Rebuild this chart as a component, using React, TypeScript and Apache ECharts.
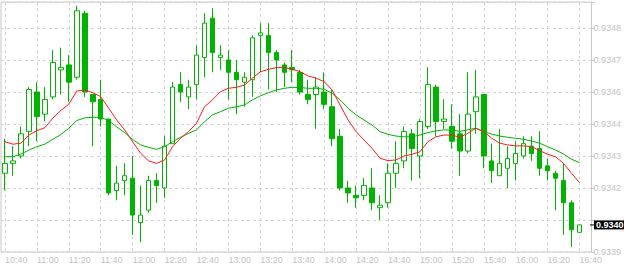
import React, { useEffect, useRef } from "react";
import * as echarts from "echarts";

// 5-minute bars, 10:40 .. 16:40
const barTimes: string[] = [];
for (let m = 640; m <= 1000; m += 5) {
  const h = Math.floor(m / 60);
  const mm = m % 60;
  barTimes.push(`${h}:${mm < 10 ? "0" + mm : mm}`);
}
const categories = [...barTimes, ""]; // one empty slot on the right

// [open, close, low, high]
const ohlc: number[][] = [
  [0.93424, 0.93428, 0.93417, 0.93438],
  [0.93428, 0.93429, 0.93423, 0.93435],
  [0.93431, 0.9344, 0.9343, 0.93443],
  [0.93441, 0.93458, 0.93435, 0.93459],
  [0.93457, 0.93447, 0.93437, 0.93461],
  [0.93448, 0.93454, 0.93445, 0.93459],
  [0.93455, 0.93469, 0.93454, 0.93474],
  [0.93466, 0.93467, 0.93456, 0.93475],
  [0.93468, 0.93461, 0.93453, 0.93472],
  [0.93463, 0.9349, 0.93462, 0.93492],
  [0.93489, 0.93457, 0.93455, 0.9349],
  [0.93456, 0.93453, 0.93435, 0.93456],
  [0.93454, 0.93446, 0.93443, 0.93462],
  [0.93446, 0.93416, 0.93415, 0.93446],
  [0.93417, 0.9342, 0.93413, 0.93427],
  [0.93421, 0.93423, 0.93415, 0.93428],
  [0.93422, 0.93407, 0.93399, 0.93431],
  [0.93404, 0.93407, 0.93396, 0.93419],
  [0.93409, 0.93421, 0.93408, 0.93423],
  [0.93421, 0.93419, 0.93412, 0.93424],
  [0.93418, 0.93435, 0.93414, 0.93439],
  [0.93436, 0.93459, 0.93436, 0.93461],
  [0.9346, 0.93457, 0.93453, 0.93465],
  [0.93455, 0.93459, 0.9345, 0.93462],
  [0.9346, 0.93472, 0.93454, 0.93476],
  [0.93471, 0.93485, 0.93463, 0.93489],
  [0.93487, 0.93473, 0.93465, 0.93491],
  [0.93471, 0.93472, 0.93466, 0.93476],
  [0.9347, 0.93465, 0.93454, 0.93474],
  [0.93465, 0.93462, 0.93448, 0.9347],
  [0.93461, 0.93463, 0.93451, 0.93465],
  [0.93462, 0.93479, 0.93455, 0.9348],
  [0.9348, 0.93481, 0.93465, 0.93485],
  [0.9348, 0.93473, 0.93458, 0.93485],
  [0.93473, 0.9347, 0.93457, 0.93474],
  [0.93468, 0.93465, 0.93459, 0.93469],
  [0.93467, 0.93466, 0.93461, 0.93474],
  [0.93465, 0.93457, 0.93456, 0.93466],
  [0.93456, 0.93454, 0.93452, 0.93462],
  [0.93456, 0.93459, 0.93442, 0.93463],
  [0.93457, 0.93452, 0.9345, 0.93465],
  [0.93451, 0.93438, 0.93435, 0.93458],
  [0.93439, 0.93418, 0.93417, 0.93442],
  [0.93418, 0.93416, 0.93412, 0.93421],
  [0.93415, 0.93414, 0.9341, 0.93419],
  [0.93415, 0.93419, 0.93413, 0.93422],
  [0.93418, 0.93412, 0.93409, 0.93426],
  [0.9341, 0.93411, 0.93405, 0.93415],
  [0.93412, 0.93424, 0.9341, 0.93428],
  [0.93424, 0.93428, 0.93418, 0.93437],
  [0.93429, 0.93441, 0.93426, 0.93443],
  [0.9344, 0.93434, 0.93421, 0.93442],
  [0.93431, 0.93445, 0.93422, 0.93446],
  [0.93443, 0.9346, 0.93442, 0.93467],
  [0.93459, 0.93445, 0.93439, 0.9346],
  [0.93445, 0.93446, 0.93442, 0.93454],
  [0.93443, 0.93437, 0.93434, 0.93452],
  [0.9344, 0.93433, 0.93423, 0.93448],
  [0.93433, 0.93448, 0.93432, 0.93465],
  [0.93449, 0.93455, 0.9344, 0.93466],
  [0.93456, 0.93431, 0.93426, 0.93456],
  [0.93429, 0.93425, 0.9342, 0.93436],
  [0.93423, 0.93428, 0.93423, 0.93442],
  [0.93426, 0.9343, 0.93418, 0.93435],
  [0.93428, 0.93432, 0.93421, 0.93437],
  [0.93431, 0.93436, 0.9343, 0.93439],
  [0.93435, 0.93432, 0.93429, 0.93439],
  [0.93434, 0.93426, 0.93423, 0.93441],
  [0.93427, 0.93425, 0.93421, 0.9343],
  [0.93424, 0.93422, 0.93409, 0.93425],
  [0.93421, 0.93412, 0.93399, 0.93428],
  [0.93412, 0.93401, 0.93394, 0.93413],
  [0.934, 0.93403, 0.934, 0.93403],
];

const maFast: number[] = [
  0.934368, 0.934358, 0.934362, 0.934395, 0.934413, 0.934425, 0.934464, 0.934495,
  0.934521, 0.934574, 0.934578, 0.934567, 0.934551, 0.934504, 0.934456, 0.934416,
  0.934368, 0.934321, 0.93429, 0.93428, 0.934294, 0.934348, 0.934382, 0.934409,
  0.934443, 0.93451, 0.934538, 0.934571, 0.934585, 0.934589, 0.934598, 0.934626,
  0.934652, 0.934662, 0.934669, 0.934669, 0.934663, 0.934652, 0.934635, 0.934626,
  0.934612, 0.934578, 0.934517, 0.934456, 0.934409, 0.934375, 0.934341, 0.934301,
  0.934291, 0.934294, 0.93431, 0.934317, 0.934327, 0.934368, 0.934388, 0.934395,
  0.934395, 0.934386, 0.934402, 0.934423, 0.934409, 0.934382, 0.934362, 0.934355,
  0.934351, 0.934351, 0.934348, 0.934332, 0.934317, 0.934307, 0.93428, 0.93424,
  0.934202,
];

const maSlow: number[] = [
  0.934307, 0.934307, 0.934318, 0.934334, 0.934348, 0.934358, 0.934378, 0.934397,
  0.934423, 0.934454, 0.934465, 0.934467, 0.934467, 0.934454, 0.934428, 0.934405,
  0.934377, 0.934355, 0.934345, 0.934337, 0.934348, 0.934368, 0.934386, 0.934402,
  0.934416, 0.934449, 0.934477, 0.93449, 0.934504, 0.93451, 0.934517, 0.934538,
  0.934554, 0.934567, 0.934578, 0.934585, 0.934589, 0.934588, 0.934585, 0.934585,
  0.934581, 0.934565, 0.934538, 0.934504, 0.934477, 0.934456, 0.934436, 0.934409,
  0.934398, 0.934391, 0.934388, 0.934388, 0.934395, 0.934405, 0.934412, 0.934416,
  0.934416, 0.93441, 0.934416, 0.934423, 0.934409, 0.934399, 0.934391, 0.934386,
  0.934382, 0.934378, 0.934371, 0.934362, 0.934348, 0.934334, 0.934318, 0.934297,
  0.934283,
];

// price scale ticks (bottom to top)
const yMin = 0.93392;
const yMax = 0.9349356;
const yStep = 0.00013;
const yTickLabels = ["0.9339", "", "0.9342", "0.9343", "0.9344", "0.9346", "0.9347", "0.9348"];

const GREEN = "#00b300";
const RED = "#ff1a1a";
const GRID = "#d4d4d4";
const AXIS_TEXT = "#c4c4c4";
const FONT = "Liberation Sans";

export default function App() {
  const ref = useRef<HTMLDivElement>(null);

  useEffect(() => {
    if (!ref.current) return;
    const chart = echarts.init(ref.current, null, { renderer: "svg" });
    const lastClose = ohlc[ohlc.length - 1][1];

    chart.setOption({
      animation: false,
      backgroundColor: "#ffffff",
      grid: {
        left: 1,
        top: 2,
        right: 32,
        bottom: 14,
        show: true,
        borderColor: "#c8c8c8",
        borderWidth: 1,
        containLabel: false,
      },
      xAxis: {
        type: "category",
        data: categories,
        boundaryGap: true,
        axisLine: { show: false },
        axisTick: { show: false },
        axisLabel: {
          interval: 3,
          align: "left",
          margin: 3,
          color: AXIS_TEXT,
          fontSize: 9,
          fontFamily: FONT,
        },
        splitLine: {
          show: true,
          interval: 3,
          alignWithLabel: true,
          lineStyle: { color: GRID, type: [3, 3], width: 1 },
        },
      },
      yAxis: {
        type: "value",
        position: "right",
        min: yMin,
        max: yMax,
        interval: yStep,
        scale: true,
        axisLine: { show: false },
        axisTick: { show: true, length: 3, lineStyle: { color: "#c8c8c8" } },
        axisLabel: {
          margin: 2,
          color: AXIS_TEXT,
          fontSize: 9,
          fontFamily: FONT,
          formatter: (v: number) => {
            const i = Math.round((v - yMin) / yStep);
            if (Math.abs(v - (yMin + i * yStep)) > yStep * 0.05) return "";
            return yTickLabels[i] ?? "";
          },
        },
        splitLine: {
          show: true,
          lineStyle: { color: GRID, type: [3, 3], width: 1 },
        },
      },
      series: [
        {
          type: "candlestick",
          data: ohlc,
          barWidth: 5,
          itemStyle: {
            color: "#ffffff",
            color0: GREEN,
            borderColor: GREEN,
            borderColor0: GREEN,
            borderColorDoji: GREEN,
            borderWidth: 1,
          },
        },
        {
          type: "line",
          data: maSlow,
          showSymbol: false,
          symbol: "none",
          lineStyle: { color: GREEN, width: 1 },
          z: 3,
        },
        {
          type: "line",
          data: maFast,
          showSymbol: false,
          symbol: "none",
          lineStyle: { color: RED, width: 1 },
          z: 4,
        },
      ],
    });

    const py = chart.convertToPixel({ yAxisIndex: 0 }, lastClose) as number;
    chart.setOption({
      graphic: [
        {
          type: "line",
          shape: { x1: 590, y1: py, x2: 594, y2: py },
          style: { stroke: "#000", lineWidth: 1 },
          z: 100,
        },
        {
          type: "rect",
          shape: { x: 594, y: py - 4.5, width: 30, height: 9 },
          style: { fill: "#000" },
          z: 100,
        },
        {
          type: "text",
          x: 596,
          y: py,
          style: {
            text: lastClose.toFixed(4),
            fill: "#fff",
            font: `bold 9px ${FONT}`,
            verticalAlign: "middle",
            align: "left",
          },
          z: 101,
        },
      ],
    });

    return () => chart.dispose();
  }, []);

  return (
    <div
      ref={ref}
      style={{ position: "fixed", left: 0, top: 0, width: 624, height: 266, background: "#fff" }}
    />
  );
}
